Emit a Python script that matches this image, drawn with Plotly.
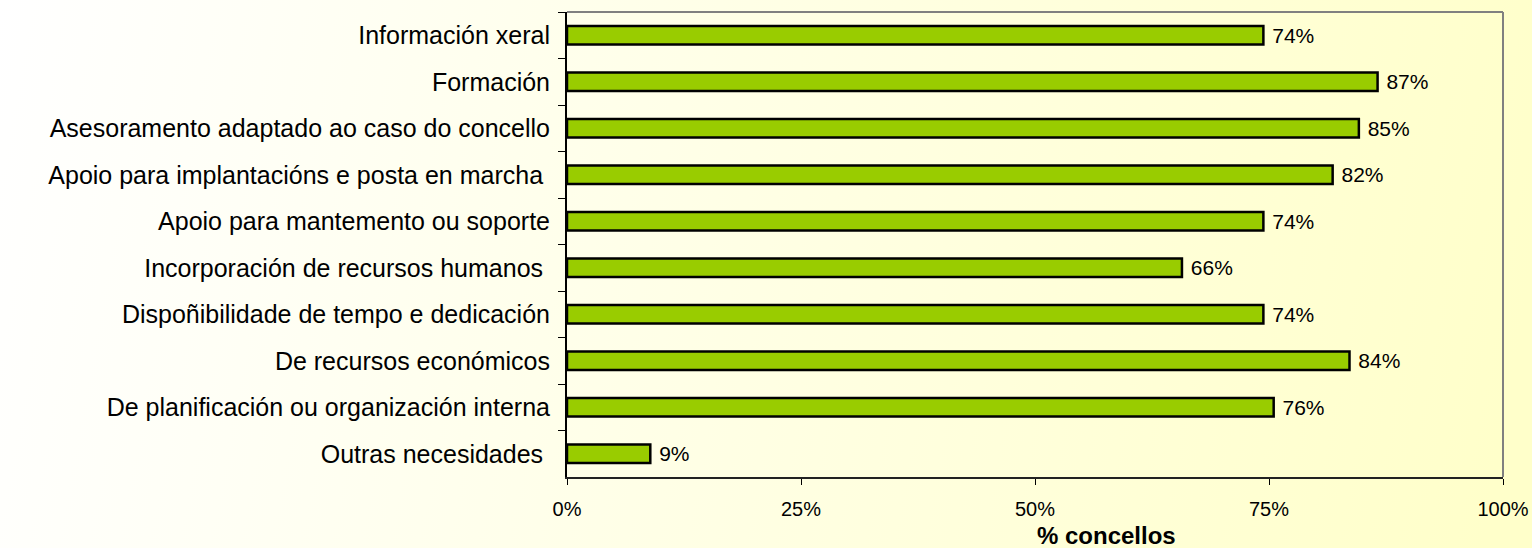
import base64
import plotly.graph_objects as go

categories = [
    "Información xeral",
    "Formación",
    "Asesoramento adaptado ao caso do concello",
    "Apoio para implantacións e posta en marcha\u00a0",
    "Apoio para mantemento ou soporte",
    "Incorporación de recursos humanos\u00a0",
    "Dispoñibilidade de tempo e dedicación",
    "De recursos económicos",
    "De planificación ou organización interna",
    "Outras necesidades\u00a0",
]
values = [74.4, 86.6, 84.6, 81.8, 74.4, 65.7, 74.4, 83.6, 75.5, 8.9]
value_labels = ["74%", "87%", "85%", "82%", "74%", "66%", "74%", "84%", "76%", "9%"]
x_ticks = [0, 25, 50, 75, 100]
x_ticktext = ["0%", "25%", "50%", "75%", "100%"]
x_title = "% concellos"

W, H = 1532, 548
ML, MR, MT, MB = 567, 29, 12, 71
PW, PH = W - ML - MR, H - MT - MB

FONT = "Liberation Sans, Arial, sans-serif"

svg = f'''<svg xmlns="http://www.w3.org/2000/svg" width="{W}" height="{H}" viewBox="0 0 {W} {H}" preserveAspectRatio="none">
<defs><linearGradient id="g" gradientUnits="userSpaceOnUse" x1="0" y1="0" x2="{W}" y2="{int(H*0.5)}">
<stop offset="0" stop-color="#FFFFFF"/><stop offset="0.25" stop-color="#FFFFF2"/><stop offset="1" stop-color="#FFFFCA"/>
</linearGradient></defs>
<rect x="0" y="0" width="{W}" height="{H}" fill="url(#g)"/></svg>'''
bg_src = "data:image/svg+xml;base64," + base64.b64encode(svg.encode()).decode()

fig = go.Figure()
fig.add_trace(go.Bar(
    x=values,
    y=categories,
    orientation="h",
    width=0.4,
    marker=dict(color="#99CC00", line=dict(color="#000000", width=2.5)),
    text=["\u00a0" + t for t in value_labels],
    textposition="outside",
    textfont=dict(family=FONT, size=21, color="#000000"),
    constraintext="none",
    cliponaxis=False,
    hoverinfo="skip",
))

fig.update_layout(
    width=W, height=H,
    margin=dict(l=ML, r=MR, t=MT, b=MB, autoexpand=False),
    paper_bgcolor="#FFFFFF",
    plot_bgcolor="rgba(255,255,255,0.45)",
    showlegend=False,
    font=dict(family=FONT, color="#000000"),
    images=[dict(
        source=bg_src, xref="paper", yref="paper",
        x=-ML / PW, y=1 + MT / PH, sizex=W / PW, sizey=H / PH,
        xanchor="left", yanchor="top", sizing="stretch", layer="below",
    )],
    xaxis=dict(
        range=[0, 100], tickvals=x_ticks, ticktext=x_ticktext,
        ticks="outside", ticklen=6, tickwidth=1, tickcolor="#000000",
        showline=True, linecolor="#222222", linewidth=2,
        showgrid=False, zeroline=False,
        tickfont=dict(family=FONT, size=20, color="#000000"),
        ticklabelstandoff=7,
    ),
    yaxis=dict(
        autorange="reversed", type="category",
        tickson="boundaries", ticks="outside", ticklen=7, tickwidth=1,
        tickcolor="#000000",
        showline=True, linecolor="#000000", linewidth=2,
        showgrid=False, zeroline=False,
        tickfont=dict(family=FONT, size=25, color="#000000"),
        ticklabelstandoff=10,
    ),
    shapes=[
        dict(type="line", xref="paper", yref="paper", x0=0, x1=1, y0=1, y1=1,
             line=dict(color="#808080", width=2)),
        dict(type="line", xref="paper", yref="paper", x0=1, x1=1, y0=0, y1=1,
             line=dict(color="#808080", width=2)),
    ],
    annotations=[dict(
        text="<b>" + x_title + "</b>", xref="paper", yref="paper",
        x=0.576, y=-0.092, xanchor="center", yanchor="top", showarrow=False,
        font=dict(family=FONT, size=24, color="#000000"),
    )],
)

fig.write_html(
    "out.html",
    config={"displayModeBar": False},
    post_script="document.body.style.margin='0';document.body.style.overflow='hidden';",
)
